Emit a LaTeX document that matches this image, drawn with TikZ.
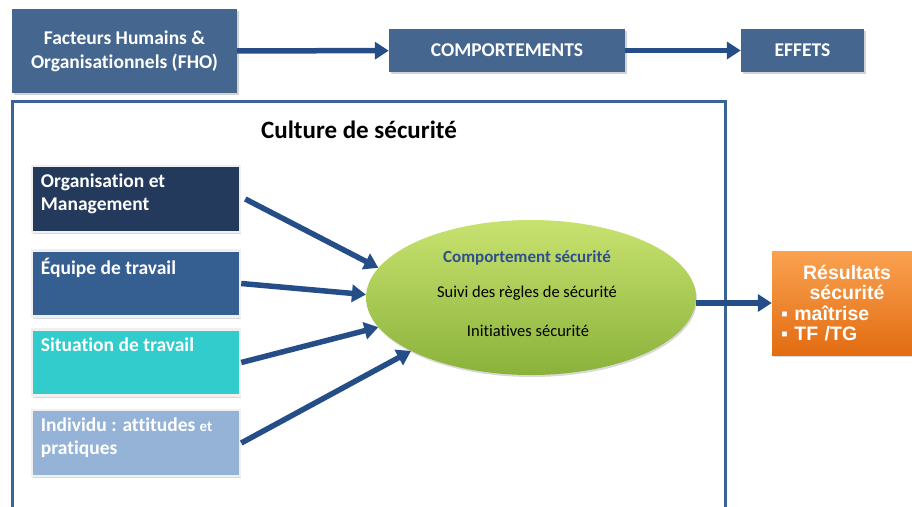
\documentclass[tikz,border=0pt]{standalone}
\usepackage{fontspec}
\setmainfont{Carlito}[Ligatures=NoCommon]
\newfontfamily\arialfont{Liberation Sans}
\usetikzlibrary{shapes, arrows.meta, shadows}
\usetikzlibrary{positioning}

\definecolor{fhoblue}{RGB}{69,102,143}
\definecolor{arrowblue}{RGB}{37,78,136}
\definecolor{framecol}{RGB}{59,100,150}
\definecolor{orgcol}{RGB}{36,58,92}
\definecolor{equipecol}{RGB}{54,95,145}
\definecolor{sitcol}{RGB}{51,204,204}
\definecolor{indcol}{RGB}{149,179,215}
\definecolor{ellhaut}{RGB}{200,226,112}
\definecolor{ellbas}{RGB}{138,178,58}
\definecolor{cstitre}{RGB}{47,79,143}
\definecolor{orhaut}{RGB}{250,162,80}
\definecolor{orbas}{RGB}{226,108,18}

\begin{document}
\begin{tikzpicture}[x=1pt,y=-1pt]
\tikzstyle{topbox} = [fill=fhoblue, text=white, inner sep=0pt, align=center, font=\bfseries\fontsize{19.5}{24}\selectfont, drop shadow={opacity=0.35, shadow xshift=2pt, shadow yshift=-2pt}]
\tikzstyle{bigarrow} = [arrowblue, line width=5.5pt, -{Triangle[length=14pt,width=17pt]}]
\tikzstyle{facbox} = [draw=gray!12, line width=2.5pt, minimum width=208pt, minimum height=66pt, inner sep=0pt, drop shadow={opacity=0.3, shadow xshift=1pt, shadow yshift=-2pt}]
\tikzstyle{factxt} = [anchor=north west, text=white, align=left, inner sep=0pt, font=\bfseries\fontsize{19.5}{23}\selectfont]
\useasboundingbox (0,0) rectangle (912,506);

% bandeau du haut
\node[topbox, minimum width=225pt, minimum height=84pt] (fho) at (124.5,51) {Facteurs Humains \&\\Organisationnels (FHO)};
\node[topbox, minimum width=236pt, minimum height=43pt] (comp) at (507,50.5) {COMPORTEMENTS};
\node[topbox, minimum width=123pt, minimum height=43pt] (eff) at (802.5,50.5) {EFFETS};
\draw[bigarrow] (fho) -- (comp);
\draw[bigarrow] (comp) -- (eff);

% cadre culture de securite
\draw[framecol, line width=3pt] (12,510) -- (12,101) -- (725,101) -- (725,510);
\node[font=\bfseries\fontsize{25}{28}\selectfont] (titre) at (359,130) {Culture de sécurité};

\foreach \n/\yc/\col/\txt in {org/199/orgcol/{Organisation et\\Management},
  equipe/283.5/equipecol/{Équipe de travail},
  sit/362.5/sitcol/{Situation de travail},
  ind/443/indcol/{Individu : attitudes {\fontsize{15}{16}\selectfont et}\\pratiques}} {
\node[facbox, fill=\col] (\n) at (136,\yc) {};
\node[factxt] (\n-t) at ([xshift=10pt,yshift=-9pt]\n.north west) {\txt};
}

% ellipse comportement
\node[ellipse, minimum width=330pt, minimum height=155pt, inner sep=0pt, top color=ellhaut, bottom color=ellbas, drop shadow={opacity=0.3, shadow xshift=1pt, shadow yshift=-2pt}] (cs) at (531,297.5) {};
\node[text=cstitre, font=\bfseries\fontsize{17}{19}\selectfont] (cs1) at (527,258) {Comportement sécurité};
\node[font=\fontsize{16.5}{19}\selectfont] (cs2) at (527,293) {Suivi des règles de sécurité};
\node[font=\fontsize{16.5}{19}\selectfont] (cs3) at (528,331) {Initiatives sécurité};

\draw[bigarrow] ([xshift=4pt]org.east) -- (cs.169);
\draw[bigarrow] (equipe.east) -- (cs.179);
\draw[bigarrow] (sit.east) -- (cs.191);
\draw[bigarrow] (ind.east) -- (cs.204);

% resultats
\node[top color=orhaut, bottom color=orbas, text=white, minimum width=150pt, minimum height=104pt, inner xsep=9pt, text width=132pt, align=left, font=\arialfont\bfseries\fontsize{19.5}{19.5}\selectfont, drop shadow={opacity=0.3, shadow xshift=1pt, shadow yshift=-2pt}] (res) at (847,303) {\centering Résultats\\sécurité\par\vspace{2pt}\raggedright ▪ maîtrise\\▪ TF /TG};
\draw[bigarrow] (res.west -| cs.east) -- (res.west);
\end{tikzpicture}
\end{document}
